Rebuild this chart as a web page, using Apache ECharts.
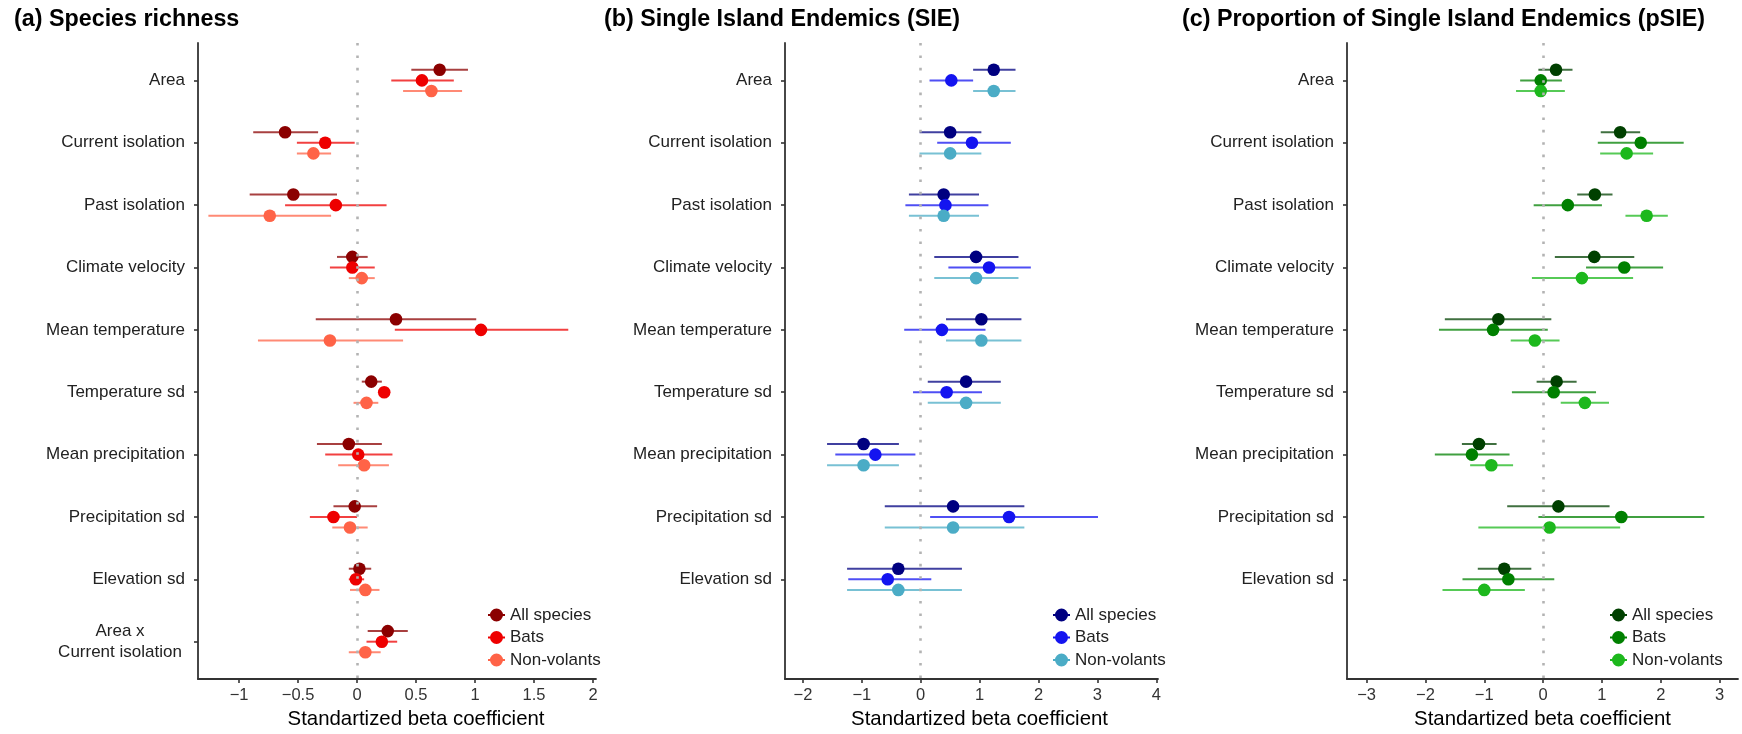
<!DOCTYPE html>
<html>
<head>
<meta charset="utf-8">
<script src="https://cdn.jsdelivr.net/npm/echarts@6/dist/echarts.min.js"></script>
<style>
  html, body { margin: 0; padding: 0; background: #ffffff; }
  #chart { width: 1742px; height: 734px; }
</style>
</head>
<body>
<div id="chart"></div>
<script>
// ---- Predictors (rows, top to bottom) ----
const richnessPredictors = ['Area', 'Current isolation', 'Past isolation', 'Climate velocity',
  'Mean temperature', 'Temperature sd', 'Mean precipitation', 'Precipitation sd',
  'Elevation sd', 'Area x\nCurrent isolation'];
const endemicPredictors = ['Area', 'Current isolation', 'Past isolation', 'Climate velocity',
  'Mean temperature', 'Temperature sd', 'Mean precipitation', 'Precipitation sd', 'Elevation sd'];

const groupNames = ['All species', 'Bats', 'Non-volants'];

// ---- Tick labels on the coefficient axes ----
const ticksRichness = [-1, -0.5, 0, 0.5, 1, 1.5, 2];
const ticksSIE = [-2, -1, 0, 1, 2, 3, 4];
const ticksPSIE = [-3, -2, -1, 0, 1, 2, 3];

// ---- (a) Species richness: estimate, lower and upper bounds ----
const richAllEst = [0.70, -0.61, -0.54, -0.04, 0.33, 0.12, -0.07, -0.02, 0.02, 0.26];
const richAllLo  = [0.46, -0.88, -0.91, -0.17, -0.35, 0.04, -0.34, -0.20, -0.07, 0.09];
const richAllHi  = [0.94, -0.33, -0.17, 0.09, 1.01, 0.21, 0.21, 0.17, 0.12, 0.43];
const richBatEst = [0.55, -0.27, -0.18, -0.04, 1.05, 0.23, 0.01, -0.20, -0.01, 0.21];
const richBatLo  = [0.29, -0.51, -0.61, -0.23, 0.32, 0.19, -0.27, -0.40, -0.07, 0.08];
const richBatHi  = [0.82, -0.02, 0.25, 0.15, 1.79, 0.28, 0.30, 0.00, 0.06, 0.34];
const richNvEst  = [0.63, -0.37, -0.74, 0.04, -0.23, 0.08, 0.06, -0.06, 0.07, 0.07];
const richNvLo   = [0.39, -0.51, -1.26, -0.07, -0.84, -0.03, -0.16, -0.21, -0.06, -0.07];
const richNvHi   = [0.89, -0.22, -0.22, 0.15, 0.39, 0.18, 0.27, 0.09, 0.19, 0.20];

// ---- (b) Single Island Endemics ----
const sieAllEst = [1.24, 0.50, 0.39, 0.94, 1.03, 0.77, -0.97, 0.55, -0.38];
const sieAllLo  = [0.89, -0.02, -0.20, 0.23, 0.43, 0.12, -1.59, -0.61, -1.25];
const sieAllHi  = [1.61, 1.03, 0.99, 1.66, 1.71, 1.36, -0.37, 1.76, 0.70];
const sieBatEst = [0.52, 0.87, 0.42, 1.16, 0.36, 0.44, -0.77, 1.50, -0.56];
const sieBatLo  = [0.15, 0.28, -0.26, 0.47, -0.28, -0.13, -1.45, 0.16, -1.23];
const sieBatHi  = [0.89, 1.53, 1.15, 1.87, 1.10, 1.04, -0.09, 3.01, 0.18];
const sieNvEst  = [1.24, 0.50, 0.39, 0.94, 1.03, 0.77, -0.97, 0.55, -0.38];
const sieNvLo   = [0.89, -0.02, -0.20, 0.23, 0.43, 0.12, -1.59, -0.61, -1.25];
const sieNvHi   = [1.61, 1.03, 0.99, 1.66, 1.71, 1.36, -0.37, 1.76, 0.70];

// ---- (c) Proportion of Single Island Endemics ----
const psieAllEst = [0.22, 1.31, 0.88, 0.87, -0.76, 0.23, -1.09, 0.26, -0.66];
const psieAllLo  = [-0.08, 0.98, 0.58, 0.20, -1.67, -0.11, -1.38, -0.61, -1.11];
const psieAllHi  = [0.50, 1.65, 1.18, 1.55, 0.14, 0.57, -0.79, 1.13, -0.20];
const psieBatEst = [-0.04, 1.66, 0.42, 1.38, -0.85, 0.18, -1.21, 1.33, -0.59];
const psieBatLo  = [-0.39, 0.93, -0.16, 0.73, -1.77, -0.53, -1.84, -0.08, -1.37];
const psieBatHi  = [0.32, 2.39, 1.00, 2.04, 0.08, 0.90, -0.57, 2.74, 0.19];
const psieNvEst  = [-0.04, 1.42, 1.76, 0.66, -0.14, 0.71, -0.88, 0.11, -1.00];
const psieNvLo   = [-0.46, 0.97, 1.40, -0.19, -0.55, 0.30, -1.24, -1.10, -1.71];
const psieNvHi   = [0.37, 1.87, 2.12, 1.53, 0.28, 1.12, -0.51, 1.31, -0.31];

// ---- Layout and styling ----
const FONT = "'Liberation Sans', Arial, Helvetica, sans-serif";
const DODGE = [-0.17, 0, 0.17];           // vertical offset of each group within a row
const ROW_MIN = -0.6, ROW_MAX = 9.6;       // row axis padding (10 row slots)

const panels = [
  {
    title: '(a) Species richness', titleLeft: 14,
    rows: richnessPredictors, ticks: ticksRichness,
    grid: { left: 198, width: 398 }, xMin: -1.348, xMax: 2.025, nameShift: 19,
    colors: ['#8B0000', '#EE0000', '#FF6347'],
    groups: [[richAllEst, richAllLo, richAllHi], [richBatEst, richBatLo, richBatHi], [richNvEst, richNvLo, richNvHi]],
    legendLeft: 488
  },
  {
    title: '(b) Single Island Endemics (SIE)', titleLeft: 604,
    rows: endemicPredictors, ticks: ticksSIE,
    grid: { left: 785, width: 373 }, xMin: -2.304, xMax: 4.029, nameShift: 8,
    colors: ['#000080', '#1414F0', '#4BACC6'],
    groups: [[sieAllEst, sieAllLo, sieAllHi], [sieBatEst, sieBatLo, sieBatHi], [sieNvEst, sieNvLo, sieNvHi]],
    legendLeft: 1053
  },
  {
    title: '(c) Proportion of Single Island Endemics (pSIE)', titleLeft: 1182,
    rows: endemicPredictors, ticks: ticksPSIE,
    grid: { left: 1347, width: 391 }, xMin: -3.333, xMax: 3.313, nameShift: 0,
    colors: ['#004000', '#008000', '#1DB81D'],
    groups: [[psieAllEst, psieAllLo, psieAllHi], [psieBatEst, psieBatLo, psieBatHi], [psieNvEst, psieNvLo, psieNvHi]],
    legendLeft: 1610
  }
];

// point-with-bar glyph used in the legends
const legendIcon = 'path://M0,5.5H2.2V7.5H0Z M14.8,5.5H17V7.5H14.8Z M15,6.5A6.5,6.5 0 1,1 2,6.5A6.5,6.5 0 1,1 15,6.5Z';

function minusSign(v) {
  return String(v).replace('-', '\u2212');
}

function renderInterval(params, api) {
  const row = api.value(3);
  const lo = api.coord([api.value(1), row]);
  const hi = api.coord([api.value(2), row]);
  const mid = api.coord([api.value(0), row]);
  const color = api.visual('color');
  return {
    type: 'group',
    children: [
      { type: 'line', shape: { x1: lo[0], y1: lo[1], x2: hi[0], y2: hi[1] },
        style: { stroke: color, lineWidth: 2, opacity: 0.75 } },
      { type: 'circle', shape: { cx: mid[0], cy: mid[1], r: 6.3 },
        style: { fill: color } }
    ]
  };
}

const option = {
  animation: false,
  backgroundColor: '#ffffff',
  textStyle: { fontFamily: FONT },
  title: panels.map(p => ({
    text: p.title, left: p.titleLeft, top: 8.5, padding: 0,
    textStyle: { fontFamily: FONT, fontSize: 23.3, fontWeight: 'bold', color: '#000000' }
  })),
  grid: panels.map(p => ({ left: p.grid.left, width: p.grid.width, top: 43, height: 638, containLabel: false })),
  xAxis: panels.map((p, i) => ({
    type: 'value', gridIndex: i, min: p.xMin, max: p.xMax,
    name: 'Standartized beta coefficient', nameLocation: 'middle', nameGap: 28,
    nameTextStyle: { fontFamily: FONT, fontSize: 20.4, color: '#000000', padding: [0, 0, 0, 2 * p.nameShift] },
    axisLine: { show: true, onZero: false, lineStyle: { color: '#333333', width: 1.8 } },
    axisTick: { show: true, length: 4, customValues: p.ticks, lineStyle: { color: '#333333', width: 1.6 } },
    axisLabel: { customValues: p.ticks, margin: 8, fontSize: 16.5, color: '#333333', fontFamily: FONT,
      formatter: minusSign },
    splitLine: { show: false }
  })),
  yAxis: panels.map((p, i) => ({
    type: 'value', gridIndex: i, inverse: true, min: ROW_MIN, max: ROW_MAX,
    axisLine: { show: true, onZero: false, lineStyle: { color: '#333333', width: 1.8 } },
    axisTick: { show: true, length: 4, customValues: p.rows.map((_, k) => k),
      lineStyle: { color: '#333333', width: 1.6 } },
    axisLabel: {
      customValues: p.rows.map((_, k) => k), margin: 13, fontSize: 17, color: '#222222',
      fontFamily: FONT,
      formatter: v => {
        const text = p.rows[Math.round(v)] || '';
        return text.includes('\n') ? text.split('\n').map(s => '{c|' + s + '}').join('\n') : text;
      },
      rich: { c: { width: 130, align: 'center', fontSize: 17, lineHeight: 21, color: '#222222', fontFamily: FONT } }
    },
    splitLine: { show: false }
  })),
  legend: panels.map(p => ({
    orient: 'vertical', left: p.legendLeft, top: 606.5, padding: 0,
    itemWidth: 17, itemHeight: 13, itemGap: 5.5, selectedMode: false,
    textStyle: { fontFamily: FONT, fontSize: 17, color: '#222222', lineHeight: 17 },
    data: groupNames.map((g, k) => ({
      name: g, icon: legendIcon,
      itemStyle: { color: p.colors[k], borderWidth: 0, borderColor: 'transparent' }
    }))
  })),
  series: []
};

panels.forEach((p, i) => {
  // dotted reference line at zero
  option.series.push({
    type: 'line', xAxisIndex: i, yAxisIndex: i, data: [], z: 1, silent: true,
    markLine: {
      silent: true, symbol: 'none', label: { show: false },
      lineStyle: { color: '#b3b3b3', width: 2.6, type: [2.6, 9.8], cap: 'butt' },
      data: [{ xAxis: 0 }]
    }
  });
  p.groups.forEach((g, k) => {
    const [est, lo, hi] = g;
    option.series.push({
      type: 'custom', name: groupNames[k], xAxisIndex: i, yAxisIndex: i, z: 3,
      itemStyle: { color: p.colors[k] },
      renderItem: renderInterval,
      encode: { x: [0, 1, 2], y: 3 },
      data: p.rows.map((_, r) => [est[r], lo[r], hi[r], r + DODGE[k]])
    });
  });
});

const chart = echarts.init(document.getElementById('chart'), null, { renderer: 'canvas' });
chart.setOption(option);
</script>
</body>
</html>
